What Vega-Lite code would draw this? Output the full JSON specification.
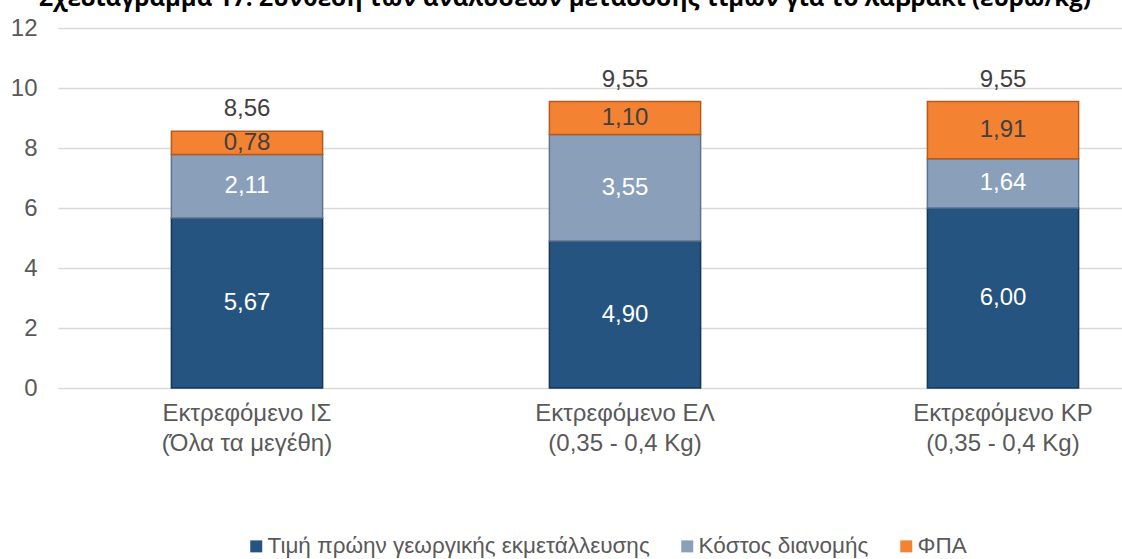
{
  "$schema": "https://vega.github.io/schema/vega-lite/v6.json",
  "autosize": "none",
  "width": 1064,
  "height": 360,
  "padding": {"left": 58, "top": 28, "right": 0, "bottom": 171},
  "background": "white",
  "title": {
    "text": "Σχεδιάγραμμα 17: Σύνθεση των αναλύσεων μετάδοσης τιμών για το λαβράκι (ευρώ/kg)",
    "font": "Open Sans",
    "fontSize": 24,
    "fontWeight": "bold",
    "color": "#000000",
    "anchor": "middle",
    "baseline": "alphabetic",
    "offset": 4,
    "dy": 18,
    "dx": -25
  },
  "config": {
    "locale": {"number": {"decimal": ",", "thousands": ".", "grouping": [3], "currency": ["", "€"]}},
    "view": {"stroke": null},
    "font": "Liberation Sans"
  },
  "data": {
    "values": [
      {"category": "Εκτρεφόμενο ΙΣ\n(Όλα τα μεγέθη)", "series": "Τιμή πρώην γεωργικής εκμετάλλευσης", "value": 5.67},
      {"category": "Εκτρεφόμενο ΙΣ\n(Όλα τα μεγέθη)", "series": "Κόστος διανομής", "value": 2.11},
      {"category": "Εκτρεφόμενο ΙΣ\n(Όλα τα μεγέθη)", "series": "ΦΠΑ", "value": 0.78},
      {"category": "Εκτρεφόμενο ΕΛ\n(0,35 - 0,4 Kg)", "series": "Τιμή πρώην γεωργικής εκμετάλλευσης", "value": 4.90},
      {"category": "Εκτρεφόμενο ΕΛ\n(0,35 - 0,4 Kg)", "series": "Κόστος διανομής", "value": 3.55},
      {"category": "Εκτρεφόμενο ΕΛ\n(0,35 - 0,4 Kg)", "series": "ΦΠΑ", "value": 1.10},
      {"category": "Εκτρεφόμενο ΚΡ\n(0,35 - 0,4 Kg)", "series": "Τιμή πρώην γεωργικής εκμετάλλευσης", "value": 6.00},
      {"category": "Εκτρεφόμενο ΚΡ\n(0,35 - 0,4 Kg)", "series": "Κόστος διανομής", "value": 1.64},
      {"category": "Εκτρεφόμενο ΚΡ\n(0,35 - 0,4 Kg)", "series": "ΦΠΑ", "value": 1.91}
    ]
  },
  "transform": [
    {"calculate": "indexof(['Τιμή πρώην γεωργικής εκμετάλλευσης', 'Κόστος διανομής', 'ΦΠΑ'], datum.series)", "as": "rank"}
  ],
  "encoding": {
    "x": {
      "field": "category",
      "type": "nominal",
      "sort": null,
      "scale": {"range": [0, 1134], "paddingInner": 0.6, "paddingOuter": 0.3},
      "axis": {
        "title": null,
        "domain": false,
        "ticks": false,
        "labelAngle": 0,
        "labelExpr": "split(datum.label, '\\n')",
        "labelFontSize": 24,
        "labelColor": "#595959",
        "labelPadding": 13,
        "labelBaseline": "top",
        "labelLineHeight": 30
      }
    }
  },
  "layer": [
    {
      "mark": {"type": "bar", "strokeWidth": 1.5},
      "encoding": {
        "y": {
          "field": "value",
          "type": "quantitative",
          "stack": "zero",
          "scale": {"domain": [0, 12]},
          "axis": {
            "title": null,
            "values": [0, 2, 4, 6, 8, 10, 12],
            "format": "d",
            "domain": false,
            "ticks": false,
            "grid": true,
            "gridColor": "#d9d9d9",
            "gridWidth": 1.5,
            "labelFontSize": 24,
            "labelColor": "#595959",
            "labelPadding": 21
          }
        },
        "color": {
          "field": "series",
          "type": "nominal",
          "sort": ["Τιμή πρώην γεωργικής εκμετάλλευσης", "Κόστος διανομής", "ΦΠΑ"],
          "scale": {
            "domain": ["Τιμή πρώην γεωργικής εκμετάλλευσης", "Κόστος διανομής", "ΦΠΑ"],
            "range": ["#255480", "#8aa0ba", "#f38232"]
          },
          "legend": {
            "title": null,
            "orient": "none",
            "direction": "horizontal",
            "legendX": 187,
            "legendY": 507,
            "symbolType": "square",
            "symbolSize": 144,
            "symbolStrokeWidth": 0,
            "labelFontSize": 22.5,
            "labelColor": "#595959",
            "labelOffset": 0,
            "columnPadding": 26,
            "labelLimit": 600
          }
        },
        "stroke": {
          "field": "series",
          "type": "nominal",
          "scale": {
            "domain": ["Τιμή πρώην γεωργικής εκμετάλλευσης", "Κόστος διανομής", "ΦΠΑ"],
            "range": ["#17375a", "#5f7390", "#b85a1c"]
          },
          "legend": null
        },
        "order": {"field": "rank", "type": "quantitative", "sort": "ascending"}
      }
    },
    {
      "transform": [
        {"stack": "value", "groupby": ["category"], "sort": [{"field": "rank", "order": "ascending"}], "as": ["v0", "v1"]},
        {"calculate": "(datum.v0 + datum.v1) / 2", "as": "mid"}
      ],
      "mark": {"type": "text", "fontSize": 24, "baseline": "middle"},
      "encoding": {
        "y": {"field": "mid", "type": "quantitative"},
        "text": {"field": "value", "type": "quantitative", "format": ".2f"},
        "color": {
          "condition": {"test": "datum.series === 'ΦΠΑ'", "value": "#404040"},
          "value": "#ffffff"
        }
      }
    },
    {
      "mark": {"type": "text", "fontSize": 24, "baseline": "alphabetic", "dy": -15, "color": "#404040"},
      "encoding": {
        "y": {"aggregate": "sum", "field": "value", "type": "quantitative"},
        "text": {"aggregate": "sum", "field": "value", "type": "quantitative", "format": ".2f"}
      }
    }
  ]
}
